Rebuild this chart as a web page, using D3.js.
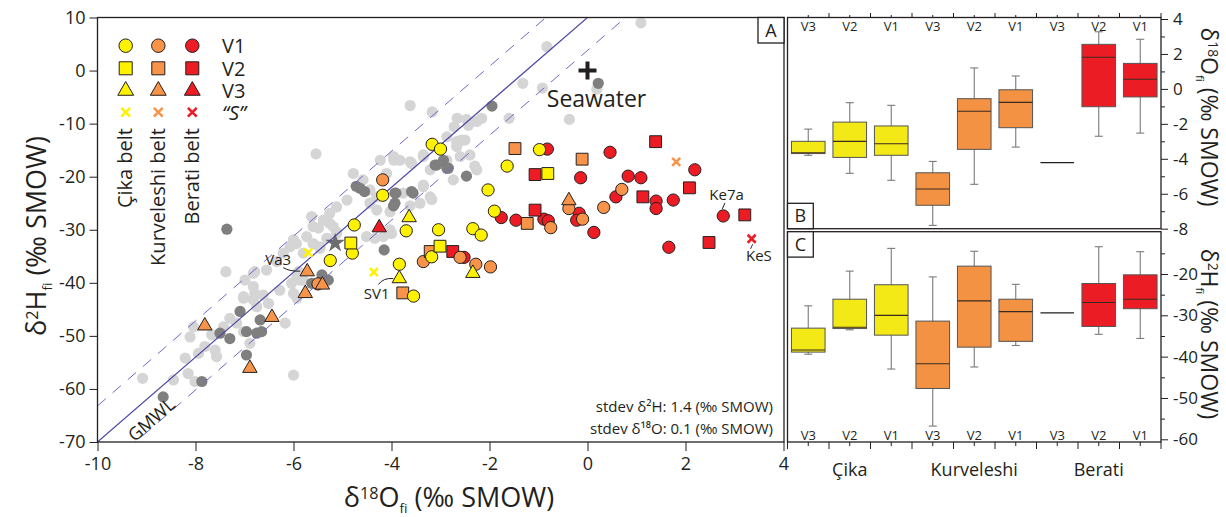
<!DOCTYPE html>
<html>
<head>
<meta charset="utf-8">
<script src="https://cdn.jsdelivr.net/npm/d3@7"></script>
<style>
body { margin: 0; background: #fff; }
svg { font-family: "Open Sans", sans-serif; }
</style>
</head>
<body>
<script>
// reference (grey) data, d18O / d2H pairs
var greyLight = [[1.09,9.0],[-0.83,4.5],[0.19,-3.5],[-1.32,-2.4],[-0.92,-3.3],[-0.37,-9.2],[-2.16,-9.0],[-1.60,-9.0],
  [-3.62,-6.6],[-3.17,-7.8],[-2.66,-9.0],[-2.47,-9.2],[-2.72,-10.6],[-2.43,-10.3],[-2.26,-9.6],[-2.87,-12.5],[-2.57,-13.1],
  [-2.67,-13.4],[-2.50,-13.1],[-2.40,-15.9],[-2.67,-14.3],[-3.35,-15.9],[-3.83,-16.9],[-3.59,-17.5],[-2.30,-18.0],
  [-2.74,-20.6],[-3.18,-24.3],[-3.35,-21.6],[-3.76,-23.1],[-3.42,-25.0],[-3.62,-25.5],[-4.0,-30.7],[-4.23,-16.9],
  [-5.54,-15.7],[-3.95,-16.9],[-3.62,-17.2],[-4.78,-19.4],[-4.58,-20.6],[-4.44,-22.5],[-4.30,-23.8],[-3.35,-21.9],
  [-3.21,-23.8],[-4.44,-25.0],[-4.30,-26.3],[-4.03,-26.6],[-4.91,-24.4],[-5.12,-25.7],[-5.26,-26.9],[-5.63,-27.5],
  [-5.39,-28.2],[-5.60,-29.4],[-5.19,-29.4],[-2.60,-16.2],[-2.87,-16.9],[-2.26,-18.7],[-5.26,-28.8],[-5.49,-29.7],
  [-5.12,-30.4],[-5.32,-31.6],[-5.73,-31.3],[-5.60,-32.6],[-5.94,-32.6],[-6.07,-33.2],[-5.46,-33.5],[-4.51,-31.3],
  [-4.34,-31.6],[-4.17,-31.3],[-4.03,-30.0],[-6.21,-34.4],[-6.34,-36.0],[-6.55,-37.6],[-6.79,-37.9],[-6.99,-39.5],
  [-6.82,-40.7],[-7.02,-42.6],[-6.82,-43.2],[-6.17,-47.6],[-5.90,-37.9],[-5.87,-39.5],[-7.38,-37.9],[-6.82,-38.2],
  [-6.04,-40.1],[-5.93,-38.8],[-5.80,-39.5],[-6.28,-41.4],[-6.0,-42.0],[-5.93,-42.9],[-6.79,-42.0],[-6.62,-42.3],
  [-6.51,-43.9],[-6.75,-44.5],[-7.02,-42.9],[-7.30,-46.7],[-7.43,-48.3],[-7.16,-47.6],[-6.89,-51.4],[-7.02,-49.2],
  [-8.04,-48.3],[-8.11,-50.2],[-7.67,-49.8],[-7.81,-52.0],[-7.60,-52.7],[-7.57,-53.9],[-8.21,-54.2],[-7.94,-53.3],
  [-8.15,-57.1],[-8.01,-58.6],[-8.45,-58.3],[-9.08,-58.0],[-6.0,-57.4],[-3.21,-18.7],[-3.35,-16.2],[-3.96,-16.2],
  [-4.10,-19.4],[-5.12,-30.7],[-6.0,-31.9],[-5.80,-34.4],[-5.46,-33.2]];
var greyDark = [[0.22,-2.4],[-1.95,-6.7],[-3.11,-17.8],[-2.87,-18.4],[-2.47,-19.9],[-3.93,-23.1],[-3.56,-23.1],
  [-3.93,-25.0],[-4.64,-22.2],[-4.72,-21.8],[-4.55,-22.8],[-3.91,-23.1],[-3.59,-22.8],[-3.96,-25.5],[-4.15,-33.8],
  [-6.96,-49.2],[-6.65,-49.2],[-6.75,-49.5],[-6.96,-53.6],[-5.63,-40.1],[-5.29,-39.5],[-5.42,-38.5],[-7.09,-45.4],
  [-6.68,-47.0],[-7.50,-49.5],[-7.30,-50.5],[-7.87,-58.6],[-8.66,-61.5],[-7.36,-29.9],[-3.08,-17.8],[-2.94,-16.9],
  [-2.84,-18.4]];
var greyStar = [[-5.15,-32.5]];

// fluid inclusion data per belt and vein generation
var cikaV1 = [[-3.17,-13.9],[-3.0,-14.8],[-0.98,-14.9],[-1.64,-18.0],[-2.03,-22.5],[-1.90,-26.5],[-3.70,-30.2],
  [-3.04,-30.0],[-2.34,-29.8],[-2.17,-31.0],[-4.18,-23.5],[-4.76,-29.1],[-4.80,-34.4],[-5.25,-35.8],[-3.18,-35.1],
  [-3.84,-36.5],[-3.55,-42.5]];
var cikaV2 = [[-0.81,-19.4],[-4.83,-32.5],[-3.01,-33.1]];
var cikaV3 = [[-3.64,-27.7],[-3.84,-39.2],[-2.34,-38.2]];
var cikaS = [[-5.70,-34.3],[-4.36,-38.0]];
var kurvV1 = [[-4.18,-20.6],[0.70,-22.4],[-0.38,-26.0],[0.33,-25.8],[-0.75,-29.6],[-0.10,-28.0],[-3.35,-36.0],
  [-2.60,-35.2],[-2.28,-36.5],[-1.98,-37.0],[-5.50,-40.2]];
var kurvV2 = [[-1.48,-14.7],[-0.11,-16.7],[-1.23,-28.8],[-3.21,-34.1],[-3.77,-41.9]];
var kurvV3 = [[-0.38,-24.5],[-5.72,-37.9],[-5.41,-40.4],[-5.76,-42.0],[-6.44,-46.5],[-7.81,-48.1],[-6.89,-56.1]];
var kurvS = [[1.81,-17.2]];
var beratiV1 = [[-0.82,-14.8],[0.46,-15.4],[-0.14,-20.2],[2.19,-18.7],[0.83,-19.9],[1.09,-20.2],[0.58,-23.8],
  [1.40,-24.6],[1.40,-26.0],[1.75,-24.4],[-1.76,-27.7],[-1.46,-28.2],[-0.89,-28.0],[-0.80,-28.3],[-0.17,-26.9],
  [-0.22,-28.2],[0.13,-30.5],[2.77,-27.4],[1.66,-33.3],[-2.52,-35.2]];
var beratiV2 = [[1.39,-13.4],[-1.07,-19.6],[2.08,-22.1],[1.13,-23.8],[-1.07,-26.3],[3.21,-27.2],[2.48,-32.4],[-2.75,-34.1]];
var beratiV3 = [[-4.25,-29.6]];
var beratiS = [[3.35,-31.7]];

// GMWL: d2H = 8 d18O + b (solid line and the two dashed bounds)
var gmwlIntercepts = [10, 16.8, 3.8];
var seawater = [0, 0];

// box plots: [low whisker, q1, median, q3, high whisker]
var boxBelts = ["Çika","Çika","Çika","Kurveleshi","Kurveleshi","Kurveleshi","Berati","Berati","Berati"];
var boxVeins = ["V3","V2","V1","V3","V2","V1","V3","V2","V1"];
var beltNames = ["Çika","Kurveleshi","Berati"];
var o18Stats = [[-3.8,-3.7,-3.65,-3.0,-2.3],[-4.83,-3.92,-3.0,-1.9,-0.79],[-5.23,-3.8,-3.14,-2.12,-0.94],
  [-7.81,-6.66,-5.73,-4.8,-4.15],[-5.46,-3.46,-1.28,-0.56,1.2],[-3.33,-2.22,-0.77,-0.05,0.74],
  [-4.22,-4.22,-4.22,-4.22,-4.22],[-2.71,-1.02,1.81,2.55,3.27],[-2.53,-0.46,0.55,1.46,2.84]];
var h2Stats = [[-39.4,-38.9,-38.4,-33.1,-27.7],[-33.5,-33.2,-32.9,-26.1,-19.3],[-43.0,-34.8,-30.0,-22.6,-13.8],
  [-56.8,-47.7,-41.7,-31.4,-20.7],[-42.5,-37.7,-26.5,-18.1,-14.5],[-37.3,-36.3,-29.1,-26.1,-22.5],
  [-29.4,-29.4,-29.4,-29.4,-29.4],[-34.6,-32.7,-26.9,-22.3,-13.4],[-35.6,-28.4,-26.1,-20.2,-14.6]];

var markerFill = { "Çika": "#fff200", "Kurveleshi": "#f7944a", "Berati": "#ed1c24" };
var boxFill = { "Çika": "#f3e917", "Kurveleshi": "#f39243", "Berati": "#ec1c24" };
var ink = "#231f20";

var svg = d3.select("body").append("svg").attr("width", 1226).attr("height", 517);

// ---------- main scatter (A) ----------
var x = d3.scaleLinear().domain([-10, 4]).range([97.5, 783.5]);
var y = d3.scaleLinear().domain([-70, 10]).range([442, 17.5]);

svg.append("clipPath").attr("id", "clipA").append("rect")
  .attr("x", 97.5).attr("y", 17.5).attr("width", 686.5).attr("height", 424.5);
var plot = svg.append("g").attr("clip-path", "url(#clipA)");

plot.selectAll(".gl").data(greyLight).enter().append("circle")
  .attr("cx", function (d) { return x(d[0]); })
  .attr("cy", function (d) { return y(d[1]); })
  .attr("r", 5.6).attr("fill", "#d5d5d5");
plot.selectAll(".gd").data(greyDark).enter().append("circle")
  .attr("cx", function (d) { return x(d[0]); })
  .attr("cy", function (d) { return y(d[1]); })
  .attr("r", 5.6).attr("fill", "#7f7f7f");
plot.selectAll(".gs").data(greyStar).enter().append("path")
  .attr("transform", function (d) { return "translate(" + x(d[0]) + "," + y(d[1]) + ")"; })
  .attr("d", d3.symbol().type(d3.symbolStar).size(120)).attr("fill", "#6d6d6d");

gmwlIntercepts.forEach(function (b, i) {
  plot.append("line")
    .attr("x1", x(-10)).attr("y1", y(8 * -10 + b))
    .attr("x2", x(4)).attr("y2", y(8 * 4 + b))
    .attr("stroke", i === 0 ? "#4b48a6" : "#6c69c9")
    .attr("stroke-width", i === 0 ? 1.2 : 1)
    .attr("stroke-dasharray", i === 0 ? null : "11,9");
});

function marker(g, kind, color, px, py, s) {
  s = s || 1;
  if (kind === "S") {
    var k = 4 * s;
    g.append("path").attr("d", "M" + (px - k) + "," + (py - k) + "L" + (px + k) + "," + (py + k) +
      "M" + (px - k) + "," + (py + k) + "L" + (px + k) + "," + (py - k))
      .attr("stroke", color).attr("stroke-width", 2.6);
    return;
  }
  var type = kind === "V1" ? d3.symbolCircle : kind === "V2" ? d3.symbolSquare : d3.symbolTriangle;
  var size = kind === "V1" ? 118 : kind === "V2" ? 140 : 90;
  g.append("path")
    .attr("transform", "translate(" + px + "," + py + ")")
    .attr("d", d3.symbol().type(type).size(size * s * s))
    .attr("fill", color).attr("stroke", ink).attr("stroke-width", 1);
}

var series = [
  ["Berati", "V1", beratiV1], ["Berati", "V2", beratiV2], ["Berati", "V3", beratiV3], ["Berati", "S", beratiS],
  ["Kurveleshi", "V1", kurvV1], ["Kurveleshi", "V2", kurvV2], ["Kurveleshi", "V3", kurvV3], ["Kurveleshi", "S", kurvS],
  ["Çika", "V1", cikaV1], ["Çika", "V2", cikaV2], ["Çika", "V3", cikaV3], ["Çika", "S", cikaS]
];
var marks = svg.append("g");
series.forEach(function (s) {
  s[2].forEach(function (d) { marker(marks, s[1], markerFill[s[0]], x(d[0]), y(d[1])); });
});

// seawater
var sx = x(seawater[0]), sy = y(seawater[1]);
svg.append("path").attr("d", "M" + (sx - 9) + "," + sy + "H" + (sx + 9) + "M" + sx + "," + (sy - 9) + "V" + (sy + 9))
  .attr("stroke", ink).attr("stroke-width", 4);
svg.append("text").attr("x", sx + 9).attr("y", sy + 36).attr("text-anchor", "middle")
  .attr("font-size", 23).attr("fill", ink).text("Seawater");

// GMWL label
svg.append("text")
  .attr("transform", "translate(" + x(-8.9) + "," + y(-65.8) + ") rotate(-41)")
  .attr("text-anchor", "middle").attr("dy", "0.35em").attr("font-size", 18).attr("fill", ink).text("GMWL");

// annotated samples
var notes = [
  { t: "Va3", p: [-5.72, -37.9], l: [-29, -12], a: [-24, -4], c: [-17, 0], b: [-7, -0.5] },
  { t: "SV1", p: [-3.84, -39.2], l: [-22.6, 15], a: [-21, 6], c: [-16, -1], b: [-6, 0] },
  { t: "Ke7a", p: [2.77, -27.4], l: [3.4, -21], a: [1.7, -13], c: [0.5, -10], b: [-1, -7] },
  { t: "KeS", p: [3.35, -31.7], l: [7.3, 17], a: [1, 5.5], c: [0, 7.5], b: [-1, 10] }
];
notes.forEach(function (n) {
  var px = x(n.p[0]), py = y(n.p[1]);
  svg.append("text").attr("x", px + n.l[0]).attr("y", py + n.l[1]).attr("dy", "0.35em")
    .attr("text-anchor", "middle").attr("font-size", 15).attr("fill", ink).text(n.t);
  svg.append("path").attr("d", "M" + (px + n.a[0]) + "," + (py + n.a[1]) + "Q" + (px + n.c[0]) + "," + (py + n.c[1]) +
    " " + (px + n.b[0]) + "," + (py + n.b[1]))
    .attr("fill", "none").attr("stroke", ink).attr("stroke-width", 1);
});

// legend
var legCols = [125.7, 158.3, 192.3], legRows = [45.7, 68.3, 90.7, 112.3];
var legKinds = ["V1", "V2", "V3", "S"], legText = ["V1", "V2", "V3", "\u201CS\u201D"];
beltNames.forEach(function (b, i) {
  legKinds.forEach(function (k, j) { marker(svg, k, markerFill[b], legCols[i], legRows[j], 1.1); });
  svg.append("text").attr("transform", "translate(" + (legCols[i] + 6.5) + ",128) rotate(-90)")
    .attr("text-anchor", "end").attr("font-size", 20).attr("fill", ink).text(b + " belt");
});
legText.forEach(function (t, j) {
  svg.append("text").attr("x", 222).attr("y", legRows[j]).attr("dy", "0.36em")
    .attr("font-size", 20).attr("fill", ink).attr("font-style", j === 3 ? "italic" : null).text(t);
});

// stdev text
var st = svg.append("g").attr("font-size", 15).attr("fill", ink).attr("text-anchor", "end");
st.append("text").attr("x", 773).attr("y", 412).text("stdev \u03B4\u00B2H: 1.4 (\u2030 SMOW)");
st.append("text").attr("x", 773).attr("y", 434).text("stdev \u03B4\u00B9\u2078O: 0.1 (\u2030 SMOW)");

// axes for A
function styleAxis(g, fs) {
  g.select(".domain").remove();
  g.selectAll("line").attr("stroke", ink);
  g.selectAll("text").attr("font-size", fs).attr("fill", ink).attr("font-family", "Open Sans, sans-serif");
}
svg.append("g").attr("transform", "translate(97.5,0)")
  .call(d3.axisLeft(y).tickValues(d3.range(-70, 11, 10)).tickSize(8).tickPadding(4)
    .tickFormat(function (d) { return String(d); }))
  .call(styleAxis, 18);
svg.append("g").attr("transform", "translate(0,442)")
  .call(d3.axisBottom(x).tickValues(d3.range(-10, 5, 2)).tickSize(9).tickPadding(6)
    .tickFormat(function (d) { return String(d); }))
  .call(styleAxis, 18);

svg.append("rect").attr("x", 97.5).attr("y", 17.5).attr("width", 686.5).attr("height", 424.5)
  .attr("fill", "none").attr("stroke", ink).attr("stroke-width", 1.3);

function panelTag(px, py, w, h, t) {
  svg.append("rect").attr("x", px).attr("y", py).attr("width", w).attr("height", h)
    .attr("fill", "#fff").attr("stroke", ink).attr("stroke-width", 1.3);
  svg.append("text").attr("x", px + w / 2).attr("y", py + h / 2).attr("dy", "0.36em")
    .attr("text-anchor", "middle").attr("font-size", 18).attr("fill", ink).text(t);
}
panelTag(758, 17.5, 26, 25.5, "A");

// axis titles
function isoLabel(g, sup, el, fs) {
  g.append("tspan").text("\u03B4");
  g.append("tspan").attr("font-size", fs * 0.6).attr("dy", -fs * 0.3).text(sup);
  g.append("tspan").attr("dy", fs * 0.3).text(el);
  g.append("tspan").attr("font-size", fs * 0.5).attr("dy", fs * 0.22).text("fi");
  g.append("tspan").attr("dy", -fs * 0.22).text(" (\u2030 SMOW)");
}
var yt = svg.append("text").attr("transform", "translate(46,236) rotate(-90)")
  .attr("text-anchor", "middle").attr("font-size", 27).attr("fill", ink);
isoLabel(yt, "2", "H", 27);
var xt = svg.append("text").attr("x", 449).attr("y", 507)
  .attr("text-anchor", "middle").attr("font-size", 27).attr("fill", ink);
isoLabel(xt, "18", "O", 27);

// ---------- box plots (B, C) ----------
var xb = d3.scaleBand().domain(d3.range(9)).range([787.5, 1161]);
var yB = d3.scaleLinear().domain([-8, 4]).range([228.7, 19]);
var yC = d3.scaleLinear().domain([-60, -20]).range([439.3, 274]);

function drawBoxes(stats, ys) {
  var g = svg.append("g");
  stats.forEach(function (s, i) {
    var cx = xb(i) + xb.bandwidth() / 2, bw = xb.bandwidth() * 0.81;
    if (s[1] === s[3]) {
      g.append("line").attr("x1", cx - bw / 2).attr("x2", cx + bw / 2)
        .attr("y1", ys(s[2])).attr("y2", ys(s[2])).attr("stroke", ink).attr("stroke-width", 1.2);
      return;
    }
    g.append("line").attr("x1", cx).attr("x2", cx).attr("y1", ys(s[0])).attr("y2", ys(s[4]))
      .attr("stroke", "#7a7a7a").attr("stroke-width", 1.1);
    [s[0], s[4]].forEach(function (v) {
      g.append("line").attr("x1", cx - 4).attr("x2", cx + 4).attr("y1", ys(v)).attr("y2", ys(v))
        .attr("stroke", "#7a7a7a").attr("stroke-width", 1.1);
    });
    g.append("rect").attr("x", cx - bw / 2).attr("width", bw)
      .attr("y", ys(s[3])).attr("height", ys(s[1]) - ys(s[3]))
      .attr("fill", boxFill[boxBelts[i]]).attr("stroke", "#555").attr("stroke-width", 1);
    g.append("line").attr("x1", cx - bw / 2).attr("x2", cx + bw / 2)
      .attr("y1", ys(s[2])).attr("y2", ys(s[2])).attr("stroke", "#3a2a20").attr("stroke-width", 1.1);
  });
}
drawBoxes(o18Stats, yB);
drawBoxes(h2Stats, yC);

// right axes
svg.append("g").attr("transform", "translate(1161,0)")
  .call(d3.axisRight(yB).tickValues(d3.range(-8, 5, 2)).tickSize(7).tickPadding(5)
    .tickFormat(function (d) { return String(d); }))
  .call(styleAxis, 17);
svg.append("g").attr("transform", "translate(1161,0)")
  .call(d3.axisRight(yB).tickValues(d3.range(-7, 4, 2)).tickSize(4).tickFormat(""))
  .call(styleAxis, 17);
svg.append("g").attr("transform", "translate(1161,0)")
  .call(d3.axisRight(yC).tickValues(d3.range(-60, -19, 10)).tickSize(7).tickPadding(5)
    .tickFormat(function (d) { return String(d); }))
  .call(styleAxis, 17);
svg.append("g").attr("transform", "translate(1161,0)")
  .call(d3.axisRight(yC).tickValues(d3.range(-55, -9, 10)).tickSize(4).tickFormat(""))
  .call(styleAxis, 17);

// category ticks
var edges = d3.range(10).map(function (i) { return i < 9 ? xb(i) : xb(8) + xb.bandwidth(); });
edges.forEach(function (e, i) {
  if (i > 0) svg.append("line").attr("x1", e).attr("x2", e).attr("y1", 17.5).attr("y2", 13).attr("stroke", ink);
  svg.append("line").attr("x1", e).attr("x2", e).attr("y1", 442).attr("y2", 449).attr("stroke", ink);
});
d3.range(9).forEach(function (i) {
  var cx = xb(i) + xb.bandwidth() / 2;
  svg.append("line").attr("x1", cx).attr("x2", cx).attr("y1", 442).attr("y2", 446).attr("stroke", ink);
  svg.append("line").attr("x1", cx).attr("x2", cx).attr("y1", 17.5).attr("y2", 15).attr("stroke", ink);
  [26, 435].forEach(function (ty) {
    svg.append("text").attr("x", cx).attr("y", ty).attr("dy", "0.36em").attr("text-anchor", "middle")
      .attr("font-size", 13).attr("fill", ink).text(boxVeins[i]);
  });
});
beltNames.forEach(function (b, k) {
  var cx = xb(k * 3 + 1) + xb.bandwidth() / 2;
  svg.append("text").attr("x", cx).attr("y", 470).attr("dy", "0.36em").attr("text-anchor", "middle")
    .attr("font-size", 18).attr("fill", ink).text(b);
});

// panel frames
svg.append("rect").attr("x", 787.5).attr("y", 17.5).attr("width", 373.5).attr("height", 211.2)
  .attr("fill", "none").attr("stroke", ink).attr("stroke-width", 1.3);
svg.append("rect").attr("x", 787.5).attr("y", 231.7).attr("width", 373.5).attr("height", 210.3)
  .attr("fill", "none").attr("stroke", ink).attr("stroke-width", 1.3);
panelTag(787.5, 203.3, 25.8, 25.4, "B");
panelTag(787.5, 231.7, 25.8, 25.4, "C");

var bt = svg.append("text").attr("transform", "translate(1201,117) rotate(90)")
  .attr("text-anchor", "middle").attr("font-size", 23).attr("fill", ink);
isoLabel(bt, "18", "O", 23);
var ct = svg.append("text").attr("transform", "translate(1201,334) rotate(90)")
  .attr("text-anchor", "middle").attr("font-size", 23).attr("fill", ink);
isoLabel(ct, "2", "H", 23);
</script>
</body>
</html>
